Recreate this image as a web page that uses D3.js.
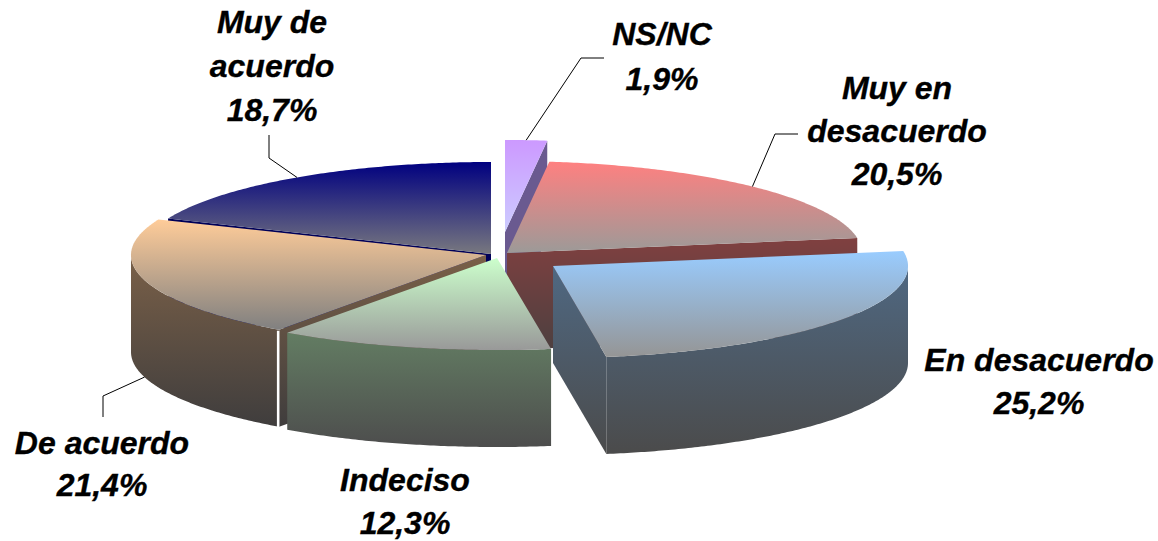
<!DOCTYPE html>
<html><head><meta charset="utf-8">
<style>html,body{margin:0;padding:0;background:#fff}svg{display:block}
text{font-family:"Liberation Sans",Arial,sans-serif;font-weight:bold;font-style:italic;font-size:32px;fill:#000;stroke:#000;stroke-width:0.35px;text-anchor:middle}</style>
<script src="https://cdn.jsdelivr.net/npm/d3@7/dist/d3.min.js"></script>
</head><body><script>
const categories = ["NS/NC","Muy en desacuerdo","En desacuerdo","Indeciso","De acuerdo","Muy de acuerdo"];
const values = [1.9,20.5,25.2,12.3,21.4,18.7];
const labelLines = [["NS/NC"],["Muy en","desacuerdo"],["En desacuerdo"],["Indeciso"],["De acuerdo"],["Muy de","acuerdo"]];
const faceTop = ["#cc99ff","#ff8080","#99ccff","#ccffcc","#ffcc99","#000080"];
const faceBottom = ["#ccccff","#9c9a98","#959595","#999999","#808080","#78787f"];
const wallTop = ["#6a5a90","#804040","#4f6882","#637d63","#7a6048","#000058"];
const wallBottom = ["#6a5a90","#4d4040","#4b4b4b","#4d4d4d","#3f3d3d","#000058"];

const W=1158,H=541, RY=92, DEPTH=97;
const radiusX=[355,355,355,360,355,350];
// exploded centre of each slice
const centers=[[505,232],[507,253],[553,266],[497,258],[486,255],[491,254]];
// label centre x, first baseline y, line step
const labelPos=[[662,45,45],[897,99,43],[1039,371,43],[405,491,43],[102,454,42],[272,33,44]];
// leader: elbow and end, null = none
const leaders=[[[581,58],[604,58]],[[775,134],[798,134]],null,null,[[103,396],[103,417]],[[269,158],[269,135]]];
const paintOrder=[0,5,1,4,3,2];

const svg=d3.select("body").append("svg").attr("width",W).attr("height",H);
const defs=svg.append("defs");
const slices=d3.pie().sort(null).startAngle(0).endAngle(2*Math.PI).value(d=>d)(values);
const line=d3.line();
function pt(i,a,dz=0){const c=centers[i];return [c[0]+radiusX[i]*Math.sin(a),c[1]-RY*Math.cos(a)+dz];}
function arcPts(i,a0,a1,dz=0){const n=Math.max(2,Math.ceil(Math.abs(a1-a0)/0.01));
  return d3.range(n+1).map(k=>pt(i,a0+(a1-a0)*k/n,dz));}
function grad(id,c0,c1){const g=defs.append("linearGradient").attr("id",id).attr("x1",0).attr("y1",0).attr("x2",0).attr("y2",1);
  g.append("stop").attr("offset",0).attr("stop-color",c0);g.append("stop").attr("offset",1).attr("stop-color",c1);return `url(#${id})`;}
const groups=svg.append("g");
paintOrder.forEach(i=>{
  const s=slices[i], c=centers[i], g=groups.append("g");
  const wallFill=grad("w"+i,wallTop[i],wallBottom[i]);
  const radial=a=>{const p=pt(i,a);return [c,p,[p[0],p[1]+DEPTH],[c[0],c[1]+DEPTH]];};
  if(Math.sin(s.startAngle)<0) g.append("path").attr("d",line(radial(s.startAngle))+"Z").attr("fill",wallFill);
  if(Math.sin(s.endAngle)>0) g.append("path").attr("d",line(radial(s.endAngle))+"Z").attr("fill",wallFill);
  const a0=Math.max(s.startAngle,Math.PI/2), a1=Math.min(s.endAngle,3*Math.PI/2);
  if(a1>a0){
    const top=arcPts(i,a0,a1), bot=arcPts(i,a1,a0,DEPTH);
    g.append("path").attr("d",line(top.concat(bot))+"Z").attr("fill",wallFill);
  }
  const face=[c].concat(arcPts(i,s.startAngle,s.endAngle));
  g.append("path").attr("d",line(face)+"Z").attr("fill",grad("f"+i,faceTop[i],faceBottom[i]));
});
// white seam at the outer corner of the "De acuerdo" wall
{const p=pt(4,slices[4].startAngle);
 groups.append("line").attr("x1",p[0]-1).attr("x2",p[0]-1).attr("y1",p[1]+1).attr("y2",p[1]+DEPTH+2).attr("stroke","#fff").attr("stroke-width",2.5);}

const fmt=v=>d3.format(".1f")(v).replace(".",",")+"%";
leaders.forEach((l,i)=>{ if(!l) return;
  const s=slices[i], mid=(s.startAngle+s.endAngle)/2;
  const front=Math.cos(mid)<0;
  const start=pt(i,mid,front?DEPTH:0);
  svg.append("path").attr("d",line([start,l[0],l[1]])).attr("fill","none").attr("stroke","#000").attr("stroke-width",1);
});
labelLines.forEach((lines,i)=>{
  const [x,y,step]=labelPos[i];
  const t=svg.append("text").attr("x",x).attr("y",y);
  lines.concat([fmt(values[i])]).forEach((txt,k)=>t.append("tspan").attr("x",x).attr("y",y+k*step).text(txt));
});
</script></body></html>
